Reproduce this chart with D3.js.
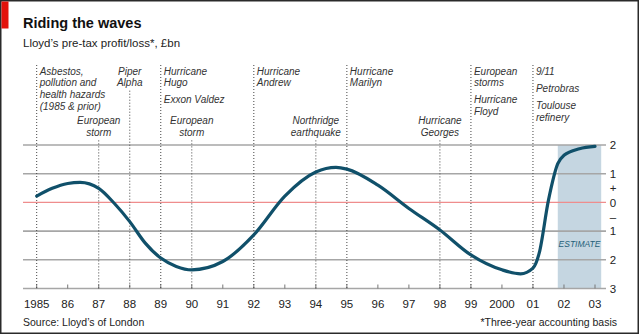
<!DOCTYPE html>
<html lang="en">
<head>
  <meta charset="UTF-8" />
  <title>Riding the waves</title>
  <script src="https://d3js.org/d3.v7.min.js"></script>
  <style>
    body { margin: 0; background: #fff; }
    svg { font-family: 'Liberation Sans', Arial, sans-serif; display: block; }
    .grid line { stroke: #a6a6a6; stroke-width: 1.6px; }
    .event { stroke: #444; stroke-width: 1px; stroke-dasharray: 1, 2; }
    .note { font-style: italic; font-size: 10px; fill: #333; }
    .year { font-size: 11.5px; fill: #222; }
    .val { font-size: 11.5px; fill: #222; }
  </style>
</head>
<body>
  <svg id="chart" width="640" height="336"></svg>

  <script>
    // values (£bn)
    const years  = [1985, 1985.5, 1986, 1986.4, 1987, 1987.5, 1988, 1988.5, 1989, 1989.5, 1990, 1991, 1992, 1993, 1994, 1994.65, 1995, 1996, 1997, 1998, 1999, 2000, 2000.6, 2001, 2001.2, 2001.5, 2001.8, 2002, 2002.5, 2003];
    const profit = [0.22, 0.49, 0.66, 0.70, 0.49, -0.03, -0.67, -1.42, -1.94, -2.23, -2.35, -2.06, -1.13, 0.22, 1.06, 1.22, 1.16, 0.6, -0.21, -0.96, -1.83, -2.35, -2.49, -2.29, -1.77, 0.08, 1.35, 1.64, 1.87, 1.95];

    const tickYears  = d3.range(1985, 2004);
    const tickLabels = ["1985", "86", "87", "88", "89", "90", "91", "92", "93", "94", "95", "96", "97", "98", "99", "2000", "01", "02", "03"];
    const valueTicks = [2, 1, 0, -1, -2, -3];
    const estimateSpan = [2001.8, 2003.2];

    // events: year, text blocks (each block = lines)
    const eventYears  = [1985, 1987, 1988, 1989, 1990, 1992, 1994, 1995, 1998, 1999, 2001];
    const eventLabels = [
      [["Asbestos,", "pollution and", "health hazards", "(1985 & prior)"]],
      [["European", "storm"]],
      [["Piper", "Alpha"]],
      [["Hurricane", "Hugo"], ["Exxon Valdez"]],
      [["European", "storm"]],
      [["Hurricane", "Andrew"]],
      [["Northridge", "earthquake"]],
      [["Hurricane", "Marilyn"]],
      [["Hurricane", "Georges"]],
      [["European", "storms"], ["Hurricane", "Floyd"]],
      [["9/11"], ["Petrobras"], ["Toulouse", "refinery"]]
    ];
    // layout: "top" = left-aligned from the top, "mid" = centred upper, "low" = centred lower
    const eventPlacement = ["top", "low", "mid", "top", "low", "top", "low", "top", "low", "top", "top"];

    const svg = d3.select("#chart");

    const x = d3.scaleLinear().domain([1985, 2003]).range([36.7, 595]);
    const y = d3.scaleLinear().domain([-3, 2]).range([288.5, 145]);
    const gridX0 = 23, gridX1 = 606;

    // frame + red tab
    svg.append("rect").attr("x", 0.75).attr("y", 0.75).attr("width", 637.5).attr("height", 332.5)
      .attr("fill", "none").attr("stroke", "#2a2a2a").attr("stroke-width", 1.5);
    svg.append("rect").attr("x", 1.5).attr("y", 1.5).attr("width", 7).attr("height", 27).attr("fill", "#e3120b");

    // titles
    svg.append("text").attr("x", 23).attr("y", 28).attr("font-size", 14.5).attr("font-weight", "bold")
      .attr("fill", "#111").text("Riding the waves");
    svg.append("text").attr("x", 23).attr("y", 47).attr("font-size", 11.5).attr("fill", "#222")
      .text("Lloyd’s pre-tax profit/loss*, £bn");

    // estimate band
    svg.append("rect")
      .attr("x", x(estimateSpan[0])).attr("y", y(2))
      .attr("width", x(estimateSpan[1]) - x(estimateSpan[0]))
      .attr("height", y(-3) - y(2))
      .attr("fill", "#c5d6e1");
    svg.append("text")
      .attr("x", (x(estimateSpan[0]) + x(estimateSpan[1])) / 2).attr("y", y(-1.55))
      .attr("text-anchor", "middle").attr("font-size", 8.5).attr("font-style", "italic")
      .attr("fill", "#1f5f78").text("ESTIMATE");

    // gridlines
    const grid = svg.append("g").attr("class", "grid");
    grid.selectAll("line").data(valueTicks.filter(v => v !== 0)).join("line")
      .attr("x1", gridX0).attr("x2", gridX1)
      .attr("y1", d => y(d)).attr("y2", d => y(d));
    svg.append("line").attr("x1", gridX0).attr("x2", gridX1).attr("y1", y(0)).attr("y2", y(0))
      .attr("stroke", "#ef8d8d").attr("stroke-width", 1.3);

    // right-hand value labels
    svg.append("g").selectAll("text").data(valueTicks).join("text")
      .attr("class", "val").attr("x", 613).attr("y", d => y(d)).attr("dy", "0.36em")
      .attr("text-anchor", "middle").text(d => Math.abs(d));
    svg.append("text").attr("class", "val").attr("x", 613).attr("y", y(0.5)).attr("dy", "0.36em")
      .attr("text-anchor", "middle").attr("font-size", 9).text("+");
    svg.append("text").attr("class", "val").attr("x", 613).attr("y", y(-0.5)).attr("dy", "0.36em")
      .attr("text-anchor", "middle").attr("font-size", 9).text("–");

    // x ticks + labels
    svg.append("g").selectAll("line").data(tickYears).join("line")
      .attr("x1", d => x(d)).attr("x2", d => x(d))
      .attr("y1", y(-3) - 4).attr("y2", y(-3))
      .attr("stroke", "#777").attr("stroke-width", 1);
    svg.append("g").selectAll("text").data(tickYears).join("text")
      .attr("class", "year").attr("x", d => x(d)).attr("y", 308)
      .attr("text-anchor", "middle").text((d, i) => tickLabels[i]);

    // events
    const lineH = 11.7, blockGap = 5.5;
    const startCentre = { top: 71, mid: 71, low: 120.7 };
    eventYears.forEach((yr, i) => {
      const place = eventPlacement[i];
      const ex = x(yr);
      let cy = startCentre[place];
      const g = svg.append("g");
      eventLabels[i].forEach((block, bi) => {
        if (bi > 0) cy += blockGap;
        block.forEach(txt => {
          g.append("text").attr("class", "note")
            .attr("x", place === "top" ? ex + 3 : ex)
            .attr("y", cy + 3.5)
            .attr("text-anchor", place === "top" ? "start" : "middle")
            .text(txt);
          cy += lineH;
        });
      });
      const top = place === "top" ? startCentre.top - 6 : cy - lineH + 8;
      svg.append("line").attr("class", "event")
        .attr("x1", ex).attr("x2", ex).attr("y1", top).attr("y2", y(-3));
    });

    // the wave
    const line = d3.line().x(d => x(d[0])).y(d => y(d[1])).curve(d3.curveMonotoneX);
    svg.append("path")
      .datum(years.map((yr, i) => [yr, profit[i]]))
      .attr("d", line)
      .attr("fill", "none").attr("stroke", "#10506a").attr("stroke-width", 3.2)
      .attr("stroke-linecap", "round");

    // footer
    svg.append("text").attr("x", 23).attr("y", 326).attr("font-size", 10.5).attr("fill", "#222")
      .text("Source: Lloyd’s of London");
    svg.append("text").attr("x", 617).attr("y", 326).attr("font-size", 10.5).attr("fill", "#222")
      .attr("text-anchor", "end").text("*Three-year accounting basis");
  </script>
</body>
</html>
